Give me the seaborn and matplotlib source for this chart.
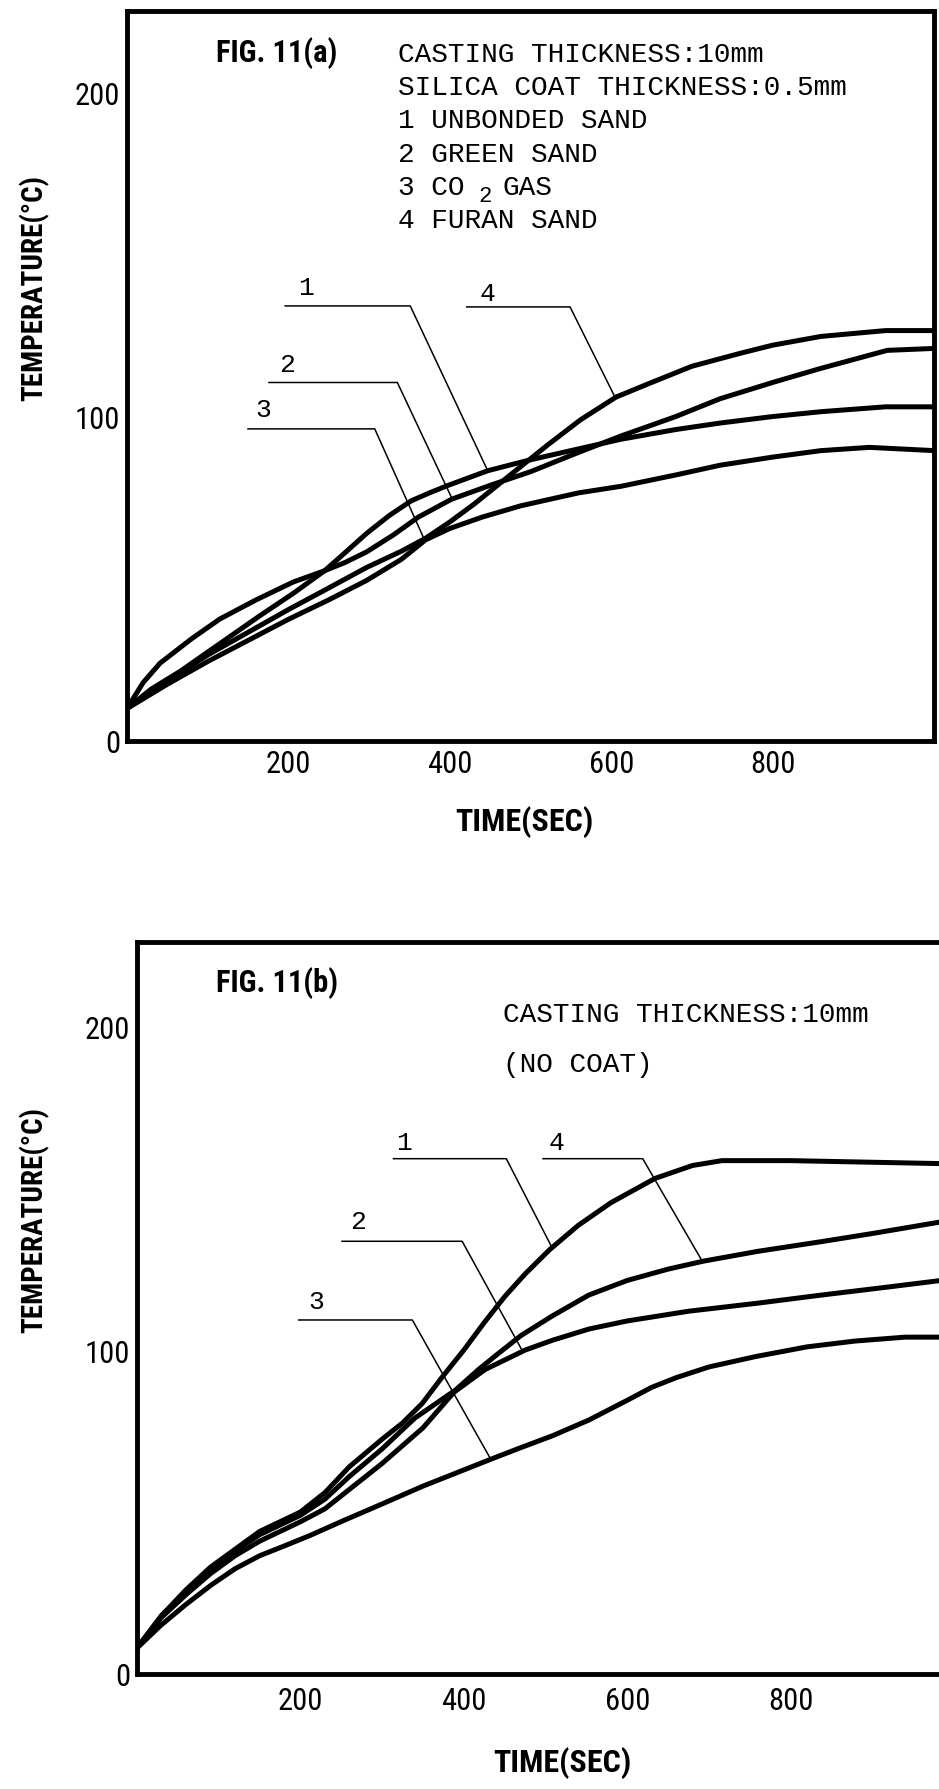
import matplotlib
matplotlib.use("Agg")
import matplotlib.pyplot as plt
from matplotlib.ticker import FixedLocator
import numpy as np
import pandas as pd
import seaborn as sns

# ---- FIG. 11(a): casting 10 mm, silica coat 0.5 mm (time s, temperature C) ----
a_unbonded_t = [0, 30, 66, 115, 164, 206, 245, 270, 297, 325, 352, 375, 398, 447, 497, 550, 612, 680, 735, 800, 860, 940, 1000]
a_unbonded_T = [10, 16, 21.5, 30, 38.5, 45.5, 52.5, 58, 64, 69.5, 74, 76.5, 78.8, 83.3, 86.5, 89.5, 93, 96, 98, 100, 101.5, 103, 103]
a_green_t = [0, 20, 41, 80, 115, 160, 206, 245, 270, 297, 330, 361, 402, 450, 500, 560, 612, 680, 735, 800, 859, 942, 1000]
a_green_T = [10, 18, 24, 31.5, 37.6, 43.5, 49, 52.5, 55, 58.3, 63.5, 69, 74.5, 78.8, 83, 89, 94, 100, 105.5, 110.5, 114.8, 120.4, 121]
a_co2_t = [0, 50, 100, 150, 200, 250, 297, 340, 370, 400, 440, 488, 560, 612, 680, 735, 800, 860, 920, 1000]
a_co2_T = [10, 17.5, 24.5, 31, 37.5, 43.5, 49.5, 56, 62, 65.5, 69, 72.5, 76.5, 78.5, 82, 85, 87.5, 89.5, 90.5, 89.5]
a_furan_t = [0, 50, 100, 150, 200, 245, 297, 340, 370, 400, 430, 470, 520, 562, 606, 650, 700, 760, 800, 860, 940, 1000]
a_furan_T = [10, 18.5, 26.5, 33.5, 40.5, 46.5, 53.5, 58.5, 62.5, 67.5, 73, 81, 91, 99, 106, 110.5, 115.5, 119.5, 122, 124.7, 126.5, 126.5]

# ---- FIG. 11(b): casting 10 mm, no coat ----
b_unbonded_t = [0, 30, 60, 90, 120, 150, 200, 230, 260, 300, 325, 349, 373, 400, 425, 450, 475, 505, 540, 580, 634, 680, 716, 800, 900, 1000]
b_unbonded_T = [8, 18, 26, 33, 38.5, 44, 50, 56, 64, 72.5, 77.5, 83.5, 91.5, 100, 108.5, 116.5, 123.5, 131, 138.5, 145.5, 153, 157, 158.5, 158.5, 158, 157.5]
b_green_t = [0, 30, 60, 90, 120, 150, 200, 230, 260, 300, 350, 388, 426, 475, 508, 553, 600, 675, 760, 838, 920, 1000]
b_green_T = [8, 17.5, 24.5, 31, 36.5, 41, 47, 51, 57, 65, 76, 87, 94, 100, 103, 106.5, 109, 112, 114.5, 117, 119.5, 122]
b_co2_t = [0, 29, 60, 91, 120, 150, 180, 212, 254, 300, 350, 400, 436, 471, 508, 553, 600, 630, 660, 700, 757, 820, 879, 940, 1000]
b_co2_T = [8, 15, 21.5, 27.5, 32.5, 36.5, 39.5, 42.8, 47.5, 52.5, 58, 63, 66.6, 70, 73.5, 78.4, 84.5, 88.5, 91.5, 94.8, 98, 101, 102.8, 104, 104]
b_furan_t = [0, 30, 60, 90, 120, 150, 200, 230, 260, 300, 340, 390, 418, 440, 470, 508, 553, 600, 650, 694, 760, 838, 900, 982, 1000]
b_furan_T = [8, 18, 25.5, 32.5, 38, 43, 49, 54, 61, 69.5, 79, 87.7, 94, 98.5, 104.5, 110.5, 117, 121.5, 125, 127.5, 130.5, 133.5, 136, 139.5, 140]

curve_ids = ["1", "2", "3", "4"]
x_ticks = [200, 400, 600, 800]
y_ticks = [0, 100, 200]
y_minor = [50, 150]

# callout numbers: text spot, horizontal leader (start, corner, level), end time on the curve
a_lead_text_t = [222, 198, 169, 447]
a_lead_text_T = [140, 116.2, 102.3, 138.1]
a_lead_start_t = [195, 175, 149, 420]
a_lead_corner_t = [351, 335, 307, 549]
a_lead_level = [134.1, 110.5, 96.2, 133.8]
a_lead_end_t = [447, 403, 369, 605]

b_lead_text_t = [327, 270.5, 219, 514]
b_lead_text_T = [164.2, 139.8, 115.1, 164.2]
b_lead_start_t = [313, 250, 197, 496]
b_lead_corner_t = [452, 398, 337, 619]
b_lead_level = [159.1, 133.6, 109.3, 159.1]
b_lead_end_t = [508, 472, 433, 692]

a_notes = ["CASTING THICKNESS:10mm", "SILICA COAT THICKNESS:0.5mm", "1 UNBONDED SAND", "2 GREEN SAND", None, "4 FURAN SAND"]
b_notes = ["CASTING THICKNESS:10mm", "(NO COAT)"]

sns.set_style("white")
NARROW = ["Liberation Sans Narrow", "Roboto Condensed", "Open Sans Condensed", "Liberation Sans", "DejaVu Sans"]
MONO = ["Liberation Mono", "DejaVu Sans Mono"]
plt.rcParams["font.family"] = NARROW
for key in ["text.color", "axes.labelcolor", "xtick.color", "ytick.color", "axes.edgecolor"]:
    plt.rcParams[key] = "black"

W, H = 939, 1790
fig = plt.figure(figsize=(W / 100, H / 100), dpi=100)


def fx(x):
    return x / W


def fy(y):
    return 1 - y / H


def long_frame(series):
    rows = []
    for cid, (t, T) in zip(curve_ids, series):
        rows.append(pd.DataFrame({"time": t, "temp": T, "curve": cid}))
    return pd.concat(rows, ignore_index=True)


def draw_panel(ax, series, ymax, lead, xpad):
    df = long_frame(series)
    sns.lineplot(data=df, x="time", y="temp", units="curve", estimator=None,
                 sort=False, color="black", linewidth=3.6, ax=ax, legend=False)
    ax.set_xlim(0, 1000)
    ax.set_ylim(0, ymax)
    ax.set_xticks(x_ticks)
    ax.set_yticks(y_ticks)
    ax.yaxis.set_minor_locator(FixedLocator(y_minor))
    ax.tick_params(axis="both", which="both", direction="in", length=12, width=1.8, color="black")
    ax.tick_params(axis="y", which="major", labelsize=22, pad=5)
    ax.tick_params(axis="x", which="major", labelsize=22, pad=xpad)
    for s in ax.spines.values():
        s.set_linewidth(3.5)
        s.set_color("black")

    text_t, text_T, start_t, corner_t, level, end_t = lead
    for i, (t, T) in enumerate(series):
        end_T = np.interp(end_t[i], t, T)
        ax.plot([start_t[i], corner_t[i], end_t[i]], [level[i], level[i], end_T],
                color="black", linewidth=1.1, solid_capstyle="butt")
        ax.text(text_t[i], text_T[i], curve_ids[i], fontsize=19, family=MONO,
                ha="center", va="center")


ax_a = fig.add_axes([fx(127), fy(742), 807 / W, 730 / H])
draw_panel(ax_a, [(a_unbonded_t, a_unbonded_T), (a_green_t, a_green_T),
                  (a_co2_t, a_co2_T), (a_furan_t, a_furan_T)], 225,
           (a_lead_text_t, a_lead_text_T, a_lead_start_t, a_lead_corner_t, a_lead_level, a_lead_end_t), 6)

ax_b = fig.add_axes([fx(137), fy(1675), 817 / W, 732 / H])
draw_panel(ax_b, [(b_unbonded_t, b_unbonded_T), (b_green_t, b_green_T),
                  (b_co2_t, b_co2_T), (b_furan_t, b_furan_T)], 226,
           (b_lead_text_t, b_lead_text_T, b_lead_start_t, b_lead_corner_t, b_lead_level, b_lead_end_t), 9)
ax_b.spines["right"].set_visible(False)

# axis labels
for ax, ylab_xy, xlab_xy in [(ax_a, (-0.115, 0.622), (0.492, -0.11)),
                             (ax_b, (-0.126, 0.622), (0.521, -0.12))]:
    ax.set_ylabel("TEMPERATURE(°C)", fontsize=21, fontweight="bold")
    ax.yaxis.label.set_va("center")
    ax.yaxis.set_label_coords(*ylab_xy)
    ax.set_xlabel("TIME(SEC)", fontsize=23, fontweight="bold")
    ax.xaxis.label.set_va("center")
    ax.xaxis.set_label_coords(*xlab_xy)

# figure captions and notes
fig.text(fx(216), fy(53), "FIG. 11(a)", fontsize=22, fontweight="bold", va="center", ha="left")
fig.text(fx(216), fy(983), "FIG. 11(b)", fontsize=22, fontweight="bold", va="center", ha="left")

a_rows = [55, 88, 121, 155, 188, 221]
for y, note in zip(a_rows, a_notes):
    if note is not None:
        fig.text(fx(398), fy(y), note, fontsize=20, family=MONO, va="center", ha="left")
fig.text(fx(398), fy(188), "3 CO", fontsize=20, family=MONO, va="center", ha="left")
fig.text(fx(478), fy(196), "2", fontsize=16, family=MONO, va="center", ha="left")
fig.text(fx(502), fy(188), "GAS", fontsize=20, family=MONO, va="center", ha="left")

for y, note in zip([1015, 1065], b_notes):
    fig.text(fx(503), fy(y), note, fontsize=20, family=MONO, va="center", ha="left")

fig.savefig("out.png", dpi=100, facecolor="white")
